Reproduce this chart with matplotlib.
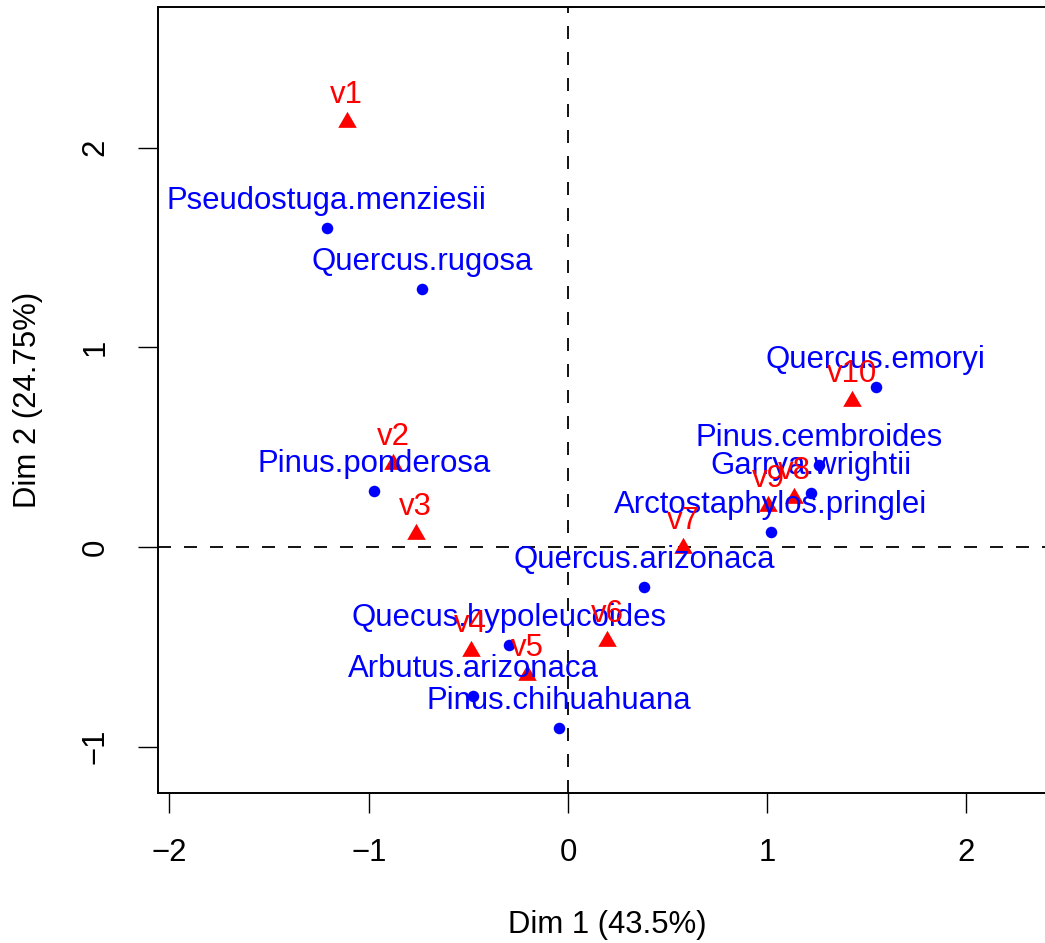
import matplotlib
matplotlib.use("Agg")
import matplotlib.pyplot as plt

# Row points (species) - blue
row_labels = ["Pseudostuga.menziesii", "Quercus.rugosa", "Pinus.ponderosa",
              "Quercus.emoryi", "Pinus.cembroides", "Garrya.wrightii",
              "Arctostaphylos.pringlei", "Quercus.arizonaca",
              "Quecus.hypoleucoides", "Arbutus.arizonaca", "Pinus.chihuahuana"]
row_dim1 = [-1.211, -0.734, -0.974, 1.544, 1.260, 1.218, 1.019, 0.383, -0.295, -0.475, -0.047]
row_dim2 = [1.596, 1.294, 0.282, 0.803, 0.411, 0.272, 0.077, -0.199, -0.491, -0.746, -0.908]

# Column points (sites) - red
col_labels = ["v1", "v2", "v3", "v4", "v5", "v6", "v7", "v8", "v9", "v10"]
col_dim1 = [-1.111, -0.877, -0.764, -0.488, -0.204, 0.196, 0.579, 1.136, 1.005, 1.427]
col_dim2 = [2.130, 0.416, 0.064, -0.523, -0.642, -0.473, -0.003, 0.243, 0.203, 0.733]

xticks = [-2, -1, 0, 1, 2]
yticks = [-1, 0, 1, 2]
xlab = "Dim 1 (43.5%)"
ylab = "Dim 2 (24.75%)"

plt.rcParams['font.family'] = ['Liberation Sans', 'DejaVu Sans']
FS = 22.4

W, H = 1045, 943
fig = plt.figure(figsize=(W / 100, H / 100), dpi=100)
left, right, bottom, top = 157.5, 1056.5, 793, 7
ax = fig.add_axes([left / W, (H - bottom) / H, (right - left) / W, (bottom - top) / H])
ax.set_xlim(-2.060, 2.452)
ax.set_ylim(-1.232, 2.704)

ax.axhline(0, color='black', lw=1.3, ls=(0, (7.2, 7.2)), zorder=1)
ax.axvline(0, color='black', lw=1.3, ls=(0, (7.2, 7.2)), zorder=1)

ax.plot(row_dim1, row_dim2, 'o', color='blue', ms=8.3, mec='none', zorder=3)
tri = [(0, 1), (-0.866, -0.5), (0.866, -0.5)]
ax.plot(col_dim1, col_dim2, ls='none', marker=tri, color='red', ms=15.4, mec='none', zorder=3)

for lab, x, y in zip(row_labels, row_dim1, row_dim2):
    ax.annotate(lab, (x, y), xytext=(0, 13.7), textcoords='offset points',
                ha='center', va='baseline', color='blue', fontsize=FS, zorder=4)
for lab, x, y in zip(col_labels, col_dim1, col_dim2):
    ax.annotate(lab, (x, y), xytext=(0, 13.7), textcoords='offset points',
                ha='center', va='baseline', color='red', fontsize=FS, zorder=5)

ax.set_xticks(xticks)
ax.set_yticks(yticks)
ax.set_xticklabels([str(t).replace('-', '\u2212') for t in xticks], fontsize=FS)
ax.set_yticklabels([str(t).replace('-', '\u2212') for t in yticks], fontsize=FS,
                   rotation=90, va='center', ha='center')
ax.tick_params(axis='both', direction='out', length=14.4, width=1.0, color='black')
ax.tick_params(axis='x', pad=18)
ax.tick_params(axis='y', pad=30)

for s in ax.spines.values():
    s.set_linewidth(1.4)

fig.text(607 / W, 1 - 925 / H, xlab, ha='center', va='center', fontsize=FS)
fig.text(28 / W, 1 - 400 / H, ylab, ha='center', va='center', rotation=90, fontsize=FS)

fig.savefig("out.png", dpi=100)
